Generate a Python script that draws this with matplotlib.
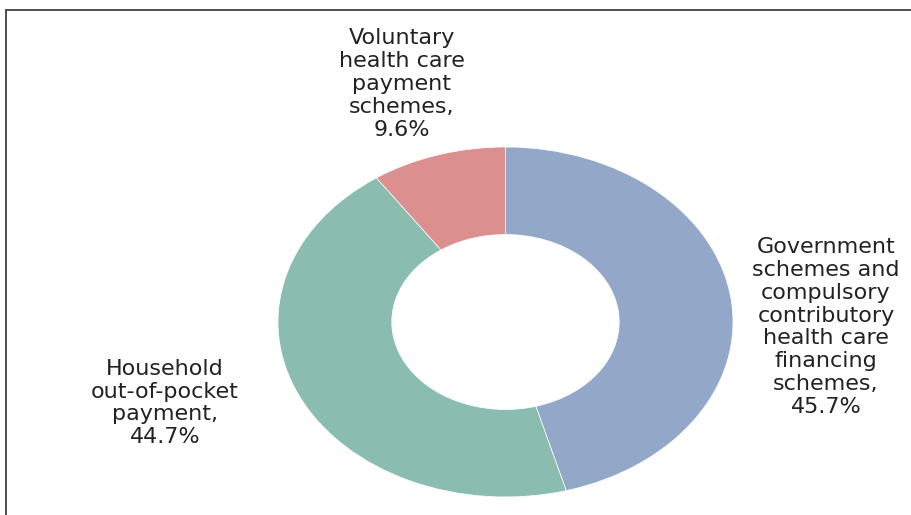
import matplotlib
matplotlib.use("Agg")
import matplotlib.pyplot as plt
from matplotlib.patches import Rectangle

# Health expenditure by financing scheme (share of total, %)
labels = [
    "Government\nschemes and\ncompulsory\ncontributory\nhealth care\nfinancing\nschemes",
    "Household\nout-of-pocket\npayment",
    "Voluntary\nhealth care\npayment\nschemes",
]
shares = [45.7, 44.7, 9.6]
colors = ["#93A7C8", "#8ABDB0", "#DB8F8F"]

# label anchor points in figure pixels (x from left, y from top)
label_pos = [(826, 327), (165, 403), (402, 84)]

W, H = 911, 515
fig = plt.figure(figsize=(W / 100, H / 100), dpi=100)

# chart frame (runs off the right and bottom edges)
fig.patches.append(Rectangle((6 / W, -0.1), 1.2, (H - 10) / H + 0.1,
                             transform=fig.transFigure, fill=False,
                             edgecolor="#404040", linewidth=1.3))

# donut axes: aspect left free so the ring is drawn as a wide ellipse
left, right, top, bottom = 278, 733, 147, 497
ax = fig.add_axes([left / W, (H - bottom) / H, (right - left) / W, (bottom - top) / H])
ax.pie(shares, colors=colors, startangle=90, counterclock=False, radius=1.0,
       wedgeprops=dict(width=0.5, edgecolor="white", linewidth=0.5))
ax.set_aspect("auto")
ax.set_xlim(-1, 1)
ax.set_ylim(-1, 1)
ax.axis("off")

for text, val, (px, py) in zip(labels, shares, label_pos):
    fig.text(px / W, 1 - py / H, f"{text},\n{val:.1f}%",
             ha="center", va="center", multialignment="center",
             fontsize=16, linespacing=1.18, color="#222222",
             family="DejaVu Sans")

fig.savefig("out.png", dpi=100, facecolor="white")
